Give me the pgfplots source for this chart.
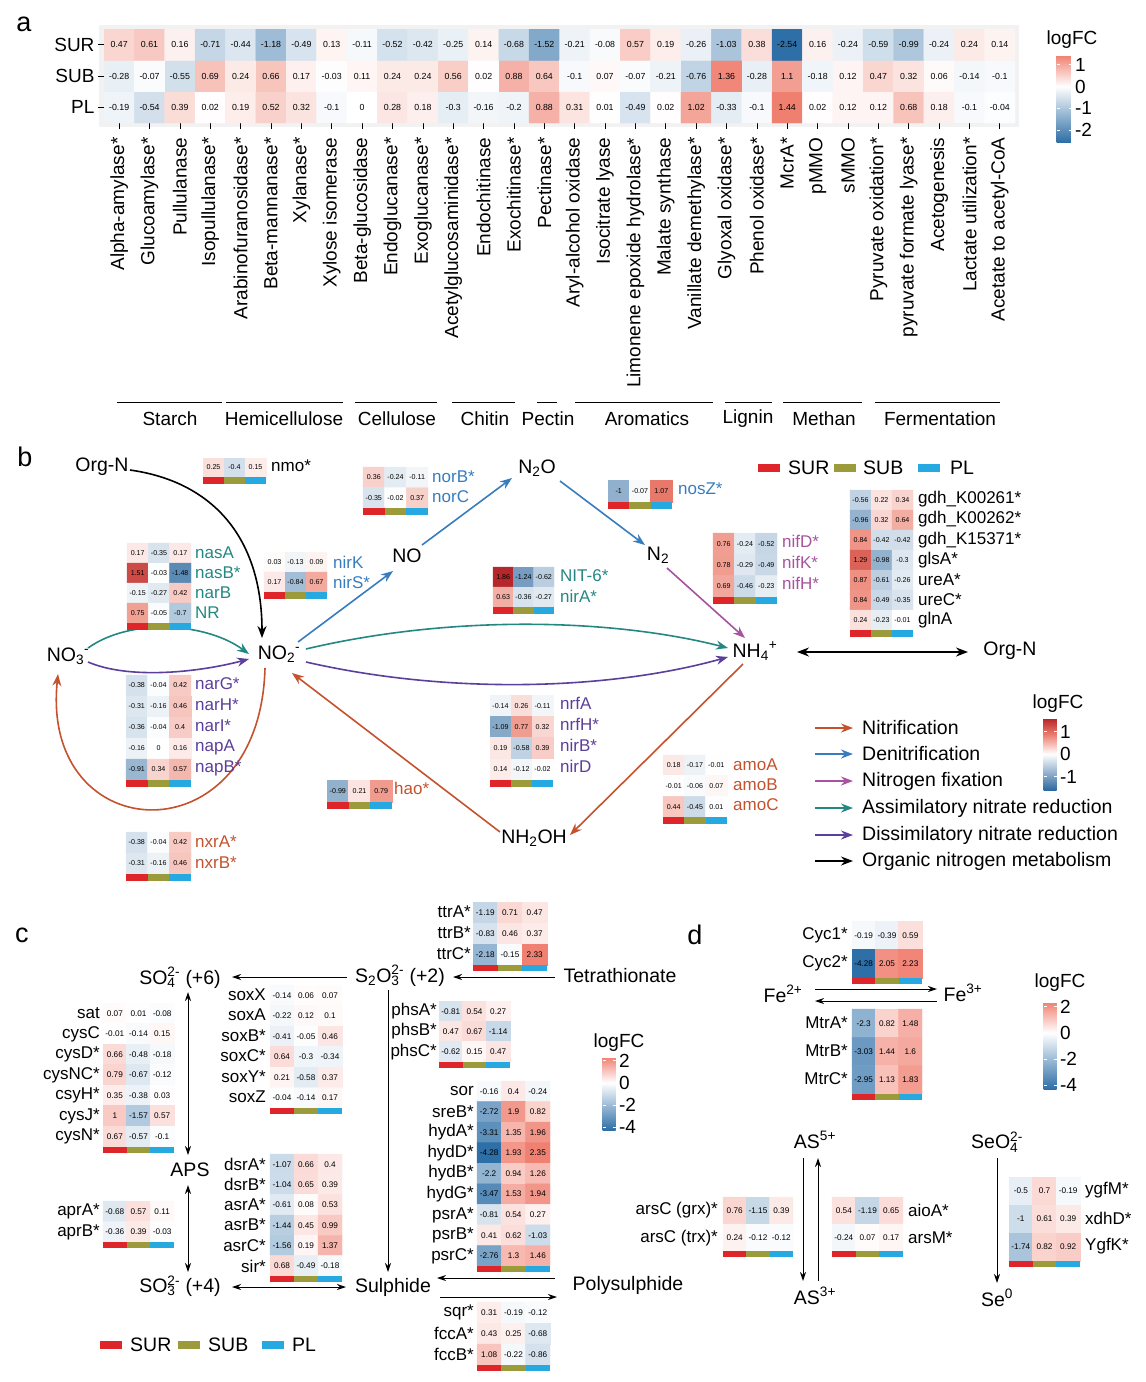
\documentclass[border=0pt]{standalone}
\usepackage{fontspec}
\setmainfont{Liberation Sans}
\usepackage{pgfplots}
\pgfplotsset{compat=1.18}
\usetikzlibrary{arrows.meta}

\definecolor{sred}{RGB}{222,38,42}
\definecolor{solive}{RGB}{155,155,60}
\definecolor{sblue}{RGB}{38,168,224}
\definecolor{cnit}{RGB}{195,82,45}
\definecolor{cden}{RGB}{55,125,190}
\definecolor{cfix}{RGB}{168,82,160}
\definecolor{cass}{RGB}{35,135,130}
\definecolor{cdis}{RGB}{92,62,155}

\newcommand{\fa}{\fontsize{8.8}{9}\selectfont}
\newcommand{\fb}{\fontsize{7.1}{7.5}\selectfont}
\newcommand{\fc}{\fontsize{8.2}{8.5}\selectfont}
\newcommand{\flab}{\fontsize{19}{21}\selectfont}
\newcommand{\fbig}{\fontsize{19.5}{21}\selectfont}
\newcommand{\fgene}{\fontsize{17}{19}\selectfont}
\newcommand{\fpanel}{\fontsize{27}{30}\selectfont}

\pgfplotsset{
  colormap={amap}{rgb255(0cm)=(46,111,167); rgb255(2.54cm)=(255,255,255); rgb255(3.98cm)=(239,128,112)},
  colormap={bmap}{rgb255(0cm)=(45,105,160); rgb255(1.9cm)=(255,255,255); rgb255(2.9cm)=(236,128,112); rgb255(3.8cm)=(180,35,40)},
  colormap={cmap}{rgb255(0cm)=(46,111,167); rgb255(4.28cm)=(255,255,255); rgb255(6.63cm)=(240,128,113)},
  hm/.style={scale only axis, hide axis, anchor=north west, enlargelimits=false,
    xmin=-0.5, xmax=2.5, ymin=-0.5, y dir=reverse, clip=false,
    nodes near coords={\pgfmathprintnumber[fixed,precision=2,assume math mode=true]{\pgfplotspointmeta}},
    nodes near coords align=center,
    every node near coord/.append style={text=black, inner sep=0pt}},
  bhm/.style={hm, colormap name=bmap, point meta min=-1.9, point meta max=1.9,
    width=64pt, every node near coord/.append style={font=\fb}},
  chm/.style={hm, colormap name=cmap, point meta min=-4.28, point meta max=2.35,
    every node near coord/.append style={font=\fc}},
  % a heatmap with a single row: square marks in the mapped colour (values set by a second plot)
  onerow/.style={scatter, only marks, mark=square*, mark size=#1, nodes near coords={},
    scatter/use mapped color={draw=mapped color, fill=mapped color}},
  cbar/.style n args={4}{at={(#1pt,-#2pt)}, anchor=north west, scale only axis, width=1pt, height=1pt,
    hide axis, xmin=0, xmax=1, ymin=0, ymax=1, point meta min=#3, point meta max=#4, colorbar,
    colorbar style={at={(parent axis.north west)}, anchor=north west, xshift=0pt,
      tick style={draw=white, line width=0.8pt}, major tick length=3pt,
      axis line style={draw=none}, yticklabel style={font=\flab},
      /pgf/number format/assume math mode=true}},
}

\tikzset{
  arr/.style={-{Stealth[length=12pt,width=9pt]}, line width=1.6pt},
  tarr/.style={-{Stealth[length=9pt,width=6pt]}, line width=1pt, black},
  dbl/.style={{Stealth[length=9pt,width=6pt]}-{Stealth[length=9pt,width=6pt]}, line width=1pt, black},
  gl/.style={font=\fgene, inner sep=0pt, anchor=west},
  gr/.style={font=\fgene, inner sep=0pt, anchor=east},
}

% colour strip (SUR, SUB, PL) under a heatmap
\newcommand{\cb}[3][7]{%
  \fill[sred] (#2.south west) rectangle ++(#3,#1);
  \fill[solive] ([xshift=#3pt]#2.south west) rectangle ++(#3,#1);
  \fill[sblue] ([xshift=2*#3pt]#2.south west) rectangle ++(#3,#1);}

\begin{document}
\begin{tikzpicture}[x=1pt,y=-1pt]
\path (0,0) rectangle (1146,1382);

%%%%%%%%%%%%%%%%%%%%%%%%%%%%%%%%%%%%%%%%%%%%%% panel a
\node[font=\fpanel] at (24,24) {a};
\fill[gray!10] (99,25) rectangle (1019,127);
\begin{axis}[name=A, at={(104pt,-29pt)}, anchor=north west, scale only axis,
  width=911pt, height=94pt, xmin=-0.5, xmax=29.5, ymin=-0.5, ymax=2.5,
  enlargelimits=false, axis line style={draw=none}, tick align=outside,
  major tick length=6pt, tick style={black, line width=0.7pt},
  xtick pos=left, ytick pos=left, xtick={0,...,29}, ytick={0,1,2},
  yticklabels={PL,SUB,SUR}, xticklabel shift=5pt,
  xticklabels={Alpha-amylase*,Glucoamylase*,Pullulanase,Isopullulanase*,Arabinofuranosidase*,Beta-mannanase*,Xylanase*,Xylose isomerase,Beta-glucosidase,Endoglucanase*,Exoglucanase*,Acetylglucosaminidase*,Endochitinase,Exochitinase*,Pectinase*,Aryl-alcohol oxidase,Isocitrate lyase,Limonene epoxide hydrolase*,Malate synthase,Vanillate demethylase*,Glyoxal oxidase*,Phenol oxidase*,McrA*,pMMO,sMMO,Pyruvate oxidation*,pyruvate formate lyase*,Acetogenesis,Lactate utilization*,Acetate to acetyl-CoA},
  xticklabel style={rotate=90, anchor=east, font=\flab},
  yticklabel style={font=\flab},
  colormap name=amap, point meta min=-2.54, point meta max=1.44,
  nodes near coords={\pgfmathprintnumber[fixed,precision=2,assume math mode=true]{\pgfplotspointmeta}},
  nodes near coords align=center,
  every node near coord/.append style={font=\fa, text=black, inner sep=0pt}]
\addplot[matrix plot*, mesh/cols=30, point meta=explicit] coordinates {
(0,0)[-0.19] (1,0)[-0.54] (2,0)[0.39] (3,0)[0.02] (4,0)[0.19] (5,0)[0.52] (6,0)[0.32] (7,0)[-0.1] (8,0)[0] (9,0)[0.28] (10,0)[0.18] (11,0)[-0.3] (12,0)[-0.16] (13,0)[-0.2] (14,0)[0.88] (15,0)[0.31] (16,0)[0.01] (17,0)[-0.49] (18,0)[0.02] (19,0)[1.02] (20,0)[-0.33] (21,0)[-0.1] (22,0)[1.44] (23,0)[0.02] (24,0)[0.12] (25,0)[0.12] (26,0)[0.68] (27,0)[0.18] (28,0)[-0.1] (29,0)[-0.04]
(0,1)[-0.28] (1,1)[-0.07] (2,1)[-0.55] (3,1)[0.69] (4,1)[0.24] (5,1)[0.66] (6,1)[0.17] (7,1)[-0.03] (8,1)[0.11] (9,1)[0.24] (10,1)[0.24] (11,1)[0.56] (12,1)[0.02] (13,1)[0.88] (14,1)[0.64] (15,1)[-0.1] (16,1)[0.07] (17,1)[-0.07] (18,1)[-0.21] (19,1)[-0.76] (20,1)[1.36] (21,1)[-0.28] (22,1)[1.1] (23,1)[-0.18] (24,1)[0.12] (25,1)[0.47] (26,1)[0.32] (27,1)[0.06] (28,1)[-0.14] (29,1)[-0.1]
(0,2)[0.47] (1,2)[0.61] (2,2)[0.16] (3,2)[-0.71] (4,2)[-0.44] (5,2)[-1.18] (6,2)[-0.49] (7,2)[0.13] (8,2)[-0.11] (9,2)[-0.52] (10,2)[-0.42] (11,2)[-0.25] (12,2)[0.14] (13,2)[-0.68] (14,2)[-1.52] (15,2)[-0.21] (16,2)[-0.08] (17,2)[0.57] (18,2)[0.19] (19,2)[-0.26] (20,2)[-1.03] (21,2)[0.38] (22,2)[-2.54] (23,2)[0.16] (24,2)[-0.24] (25,2)[-0.59] (26,2)[-0.99] (27,2)[-0.24] (28,2)[0.24] (29,2)[0.14]
};
\end{axis}
\node[font=\flab] at (1072,40) {logFC};
\begin{axis}[cbar={1048}{55}{-2.54}{1.44}, colormap name=amap,
  colorbar style={width=15pt, height=87pt, ytick={-2,-1,0,1}}]
\addplot[draw=none] coordinates {(0,0)};
\end{axis}
% substrate groups
\foreach \a/\b/\c/\t in {117/222/170/Starch, 226/343/284/Hemicellulose, 355/437/397/Cellulose,
  452/515/485/Chitin, 537/557/548/Pectin, 575/713/647/Aromatics, 725/772/748/Lignin,
  783/862/824/Methan, 875/1000/940/Fermentation}{
  \draw[line width=1pt] (\a,402) -- (\b,402);
  \node[font=\flab] at (\c,419) {\t};
}

%%%%%%%%%%%%%%%%%%%%%%%%%%%%%%%%%%%%%%%%%%%%%% panel b
\node[font=\fpanel] at (25,457) {b};
% compounds
\node[font=\fbig] at (102,467) {Org-N};
\node[font=\fbig] at (68,656) {NO\textsubscript{3}\textsuperscript{-}};
\node[font=\fbig] at (279,654) {NO\textsubscript{2}\textsuperscript{-}};
\node[font=\fbig] at (407,556) {NO};
\node[font=\fbig] at (537,468) {N\textsubscript{2}O};
\node[font=\fbig] at (658,555) {N\textsubscript{2}};
\node[font=\fbig] at (755,651) {NH\textsubscript{4}\textsuperscript{+}};
\node[font=\fbig] at (1010,651) {Org-N};
\node[font=\fbig] at (534,838) {NH\textsubscript{2}OH};
% pathways
\draw[arr] (130,470) .. controls (215,482) and (262,540) .. (262,638);
\draw[arr, cass] (88,648) .. controls (130,618) and (205,622) .. (249,654);
\draw[arr, cdis] (88,662) .. controls (130,680) and (200,672) .. (249,659);
\draw[arr, cass] (306,649) .. controls (450,615) and (610,618) .. (728,648);
\draw[arr, cdis] (306,662) .. controls (450,695) and (610,690) .. (728,657);
\draw[arr, cden] (298,642) -- (393,571);
\draw[arr, cden] (422,545) -- (512,478);
\draw[arr, cden] (560,481) -- (645,545);
\draw[arr, cfix] (667,568) -- (745,638);
\draw[arr, cnit] (743,664) -- (570,835);
\draw[arr, cnit] (500,832) -- (292,673);
\draw[arr, cnit] (265,668) .. controls (260,860) and (40,850) .. (58,674);
\draw[{Stealth[length=12pt,width=9pt]}-{Stealth[length=12pt,width=9pt]}, line width=1.6pt] (797,652) -- (968,652);

% nmo
\begin{axis}[bhm, name=nmo, at={(203pt,-458pt)}, width=63pt, height=19pt, ymax=0.5]
\addplot[onerow=10.5pt, mark options={yscale=0.905}, point meta=explicit] coordinates {
(0,0)[0.25] (1,0)[-0.4] (2,0)[0.15]};
\addplot[draw=none, point meta=explicit] coordinates {
(0,0)[0.25] (1,0)[-0.4] (2,0)[0.15]};
\end{axis}
\cb{nmo}{21}
\node[gl] at (271,466) {nmo*};

% nas
\begin{axis}[bhm, name=nas, at={(127pt,-543pt)}, width=64pt, height=80pt, ymax=3.5]
\addplot[matrix plot*, mesh/cols=3, point meta=explicit] coordinates {
(0,0)[0.17] (1,0)[-0.35] (2,0)[0.17]
(0,1)[1.51] (1,1)[-0.03] (2,1)[-1.48]
(0,2)[-0.15] (1,2)[-0.27] (2,2)[0.42]
(0,3)[0.75] (1,3)[-0.05] (2,3)[-0.7]};
\end{axis}
\cb{nas}{21.33}
\foreach \t/\y in {nasA/553, nasB*/573, narB/593, NR/613}{\node[gl, cass] at (195,\y) {\t};}

% nirK
\begin{axis}[bhm, name=nirK, at={(264pt,-552pt)}, width=63pt, height=40pt, ymax=1.5]
\addplot[matrix plot*, mesh/cols=3, point meta=explicit] coordinates {
(0,0)[0.03] (1,0)[-0.13] (2,0)[0.09]
(0,1)[0.17] (1,1)[-0.84] (2,1)[0.67]};
\end{axis}
\cb{nirK}{21}
\node[gl, cden] at (333,562) {nirK};
\node[gl, cden] at (333,582) {nirS*};

% nor
\begin{axis}[bhm, name=nor, at={(363pt,-467pt)}, width=65pt, height=41pt, ymax=1.5]
\addplot[matrix plot*, mesh/cols=3, point meta=explicit] coordinates {
(0,0)[0.36] (1,0)[-0.24] (2,0)[-0.11]
(0,1)[-0.35] (1,1)[-0.02] (2,1)[0.37]};
\end{axis}
\cb{nor}{21.67}
\node[gl, cden] at (432,477) {norB*};
\node[gl, cden] at (432,497) {norC};

% nosZ
\begin{axis}[bhm, name=nos, at={(608pt,-480pt)}, width=64pt, height=22pt, ymax=0.5]
\addplot[onerow=10.67pt, mark options={yscale=1.03}, point meta=explicit] coordinates {
(0,0)[-1] (1,0)[-0.07] (2,0)[1.07]};
\addplot[draw=none, point meta=explicit] coordinates {
(0,0)[-1] (1,0)[-0.07] (2,0)[1.07]};
\end{axis}
\cb{nos}{21.33}
\node[gl, cden] at (678,489) {nosZ*};

% NIT-6
\begin{axis}[bhm, name=nit, at={(493pt,-567pt)}, width=61pt, height=40pt, ymax=1.5]
\addplot[matrix plot*, mesh/cols=3, point meta=explicit] coordinates {
(0,0)[1.86] (1,0)[-1.24] (2,0)[-0.62]
(0,1)[0.63] (1,1)[-0.36] (2,1)[-0.27]};
\end{axis}
\cb{nit}{20.33}
\node[gl, cass] at (560,576) {NIT-6*};
\node[gl, cass] at (560,596) {nirA*};

% nif
\begin{axis}[bhm, name=nif, at={(713pt,-533pt)}, width=64pt, height=64pt, ymax=2.5]
\addplot[matrix plot*, mesh/cols=3, point meta=explicit] coordinates {
(0,0)[0.76] (1,0)[-0.24] (2,0)[-0.52]
(0,1)[0.78] (1,1)[-0.29] (2,1)[-0.49]
(0,2)[0.69] (1,2)[-0.46] (2,2)[-0.23]};
\end{axis}
\cb{nif}{21.33}
\foreach \t/\y in {nifD*/541, nifK*/562, nifH*/583}{\node[gl, cfix] at (782,\y) {\t};}

% sample legend
\fill[sred] (758,464) rectangle (780,472); \node[gl, font=\fbig] at (788,468) {SUR};
\fill[solive] (834,464) rectangle (856,472); \node[gl, font=\fbig] at (863,468) {SUB};
\fill[sblue] (918,464) rectangle (940,472); \node[gl, font=\fbig] at (950,468) {PL};

% gdh
\begin{axis}[bhm, name=gdh, at={(850pt,-490pt)}, width=63pt, height=140pt, ymax=6.5]
\addplot[matrix plot*, mesh/cols=3, point meta=explicit] coordinates {
(0,0)[-0.56] (1,0)[0.22] (2,0)[0.34]
(0,1)[-0.96] (1,1)[0.32] (2,1)[0.64]
(0,2)[0.84] (1,2)[-0.42] (2,2)[-0.42]
(0,3)[1.29] (1,3)[-0.98] (2,3)[-0.3]
(0,4)[0.87] (1,4)[-0.61] (2,4)[-0.26]
(0,5)[0.84] (1,5)[-0.49] (2,5)[-0.35]
(0,6)[0.24] (1,6)[-0.23] (2,6)[-0.01]};
\end{axis}
\cb{gdh}{21}
\foreach \t/\y in {gdh\_K00261*/499, gdh\_K00262*/519, gdh\_K15371*/540, glsA*/560, ureA*/580, ureC*/600, glnA/620}{\node[gl] at (918,\y) {\t};}

% nar / nap
\begin{axis}[bhm, name=nar, at={(126pt,-675pt)}, width=65pt, height=105pt, ymax=4.5]
\addplot[matrix plot*, mesh/cols=3, point meta=explicit] coordinates {
(0,0)[-0.38] (1,0)[-0.04] (2,0)[0.42]
(0,1)[-0.31] (1,1)[-0.16] (2,1)[0.46]
(0,2)[-0.36] (1,2)[-0.04] (2,2)[0.4]
(0,3)[-0.16] (1,3)[0] (2,3)[0.16]
(0,4)[-0.91] (1,4)[0.34] (2,4)[0.57]};
\end{axis}
\cb{nar}{21.67}
\foreach \t/\y in {narG*/684, narH*/705, narI*/726, napA/747, napB*/768}{\node[gl, cdis] at (195,\y) {\t};}

% nxr
\begin{axis}[bhm, name=nxr, at={(126pt,-832pt)}, width=65pt, height=42pt, ymax=1.5]
\addplot[matrix plot*, mesh/cols=3, point meta=explicit] coordinates {
(0,0)[-0.38] (1,0)[-0.04] (2,0)[0.42]
(0,1)[-0.31] (1,1)[-0.16] (2,1)[0.46]};
\end{axis}
\cb{nxr}{21.67}
\node[gl, cnit] at (195,842) {nxrA*};
\node[gl, cnit] at (195,863) {nxrB*};

% hao
\begin{axis}[bhm, name=hao, at={(327pt,-780pt)}, width=65pt, height=22pt, ymax=0.5]
\addplot[onerow=10.83pt, mark options={yscale=1.015}, point meta=explicit] coordinates {
(0,0)[-0.99] (1,0)[0.21] (2,0)[0.79]};
\addplot[draw=none, point meta=explicit] coordinates {
(0,0)[-0.99] (1,0)[0.21] (2,0)[0.79]};
\end{axis}
\cb{hao}{21.67}
\node[gl, cnit] at (394,788) {hao*};

% nrf / nir
\begin{axis}[bhm, name=nrf, at={(490pt,-695pt)}, width=63pt, height=85pt, ymax=3.5]
\addplot[matrix plot*, mesh/cols=3, point meta=explicit] coordinates {
(0,0)[-0.14] (1,0)[0.26] (2,0)[-0.11]
(0,1)[-1.09] (1,1)[0.77] (2,1)[0.32]
(0,2)[0.19] (1,2)[-0.58] (2,2)[0.39]
(0,3)[0.14] (1,3)[-0.12] (2,3)[-0.02]};
\end{axis}
\cb{nrf}{21}
\foreach \t/\y in {nrfA/703, nrfH*/724, nirB*/745, nirD/766}{\node[gl, cdis] at (560,\y) {\t};}

% amo
\begin{axis}[bhm, name=amo, at={(663pt,-755pt)}, width=64pt, height=62pt, ymax=2.5]
\addplot[matrix plot*, mesh/cols=3, point meta=explicit] coordinates {
(0,0)[0.18] (1,0)[-0.17] (2,0)[-0.01]
(0,1)[-0.01] (1,1)[-0.06] (2,1)[0.07]
(0,2)[0.44] (1,2)[-0.45] (2,2)[0.01]};
\end{axis}
\cb{amo}{21.33}
\foreach \t/\y in {amoA/765, amoB/785, amoC/805}{\node[gl, cnit] at (733,\y) {\t};}

% pathway legend
\foreach \c/\t/\y in {cnit/Nitrification/728, cden/Denitrification/754, cfix/Nitrogen fixation/781,
  cass/Assimilatory nitrate reduction/808, cdis/Dissimilatory nitrate reduction/835, black/Organic nitrogen metabolism/861}{
  \draw[arr, \c] (815,\y) -- (853,\y);
  \node[gl, font=\fbig] at (862,\y) {\t};
}
\node[font=\flab] at (1058,704) {logFC};
\begin{axis}[cbar={1035}{718}{-1.6}{1.6}, colormap name=bmap,
  colorbar style={width=13pt, height=72pt, ytick={-1,0,1}}]
\addplot[draw=none] coordinates {(0,0)};
\end{axis}

%%%%%%%%%%%%%%%%%%%%%%%%%%%%%%%%%%%%%%%%%%%%%% panel c
\node[font=\fpanel] at (22,935) {c};
\node[font=\fbig] at (180,978) {SO\rlap{\textsubscript{4}}\textsuperscript{2-} (+6)};
\node[font=\fbig] at (400,976) {S\textsubscript{2}O\rlap{\textsubscript{3}}\textsuperscript{2-} (+2)};
\node[font=\fbig] at (620,976) {Tetrathionate};
\node[font=\fbig] at (190,1170) {APS};
\node[font=\fbig] at (180,1286) {SO\rlap{\textsubscript{3}}\textsuperscript{2-} (+4)};
\node[font=\fbig] at (393,1287) {Sulphide};
\node[font=\fbig] at (628,1285) {Polysulphide};
\draw[tarr] (347,977) -- (232,977);
\draw[tarr] (555,977) -- (453,977);
\draw[dbl] (188,992) -- (188,1155);
\draw[dbl] (188,1185) -- (188,1272);
\draw[dbl] (232,1287) -- (346,1287);
\draw[tarr] (388,990) -- (388,1272);
\draw[tarr] (555,1278) -- (437,1278);
\draw[tarr] (440,1297) -- (557,1297);

% ttr
\begin{axis}[chm, name=ttr, at={(473pt,-902pt)}, width=74pt, height=63pt, ymax=2.5]
\addplot[matrix plot*, mesh/cols=3, point meta=explicit] coordinates {
(0,0)[-1.19] (1,0)[0.71] (2,0)[0.47]
(0,1)[-0.83] (1,1)[0.46] (2,1)[0.37]
(0,2)[-2.18] (1,2)[-0.15] (2,2)[2.33]};
\end{axis}
\cb[6]{ttr}{24.67}
\foreach \t/\y in {ttrA*/912, ttrB*/933, ttrC*/954}{\node[gr] at (471,\y) {\t};}

% sox
\begin{axis}[chm, name=sox, at={(270pt,-985pt)}, width=72pt, height=123pt, ymax=5.5]
\addplot[matrix plot*, mesh/cols=3, point meta=explicit] coordinates {
(0,0)[-0.14] (1,0)[0.06] (2,0)[0.07]
(0,1)[-0.22] (1,1)[0.12] (2,1)[0.1]
(0,2)[-0.41] (1,2)[-0.05] (2,2)[0.46]
(0,3)[0.64] (1,3)[-0.3] (2,3)[-0.34]
(0,4)[0.21] (1,4)[-0.58] (2,4)[0.37]
(0,5)[-0.04] (1,5)[-0.14] (2,5)[0.17]};
\end{axis}
\cb[6]{sox}{24}
\foreach \t/\y in {soxX/995, soxA/1015, soxB*/1036, soxC*/1056, soxY*/1077, soxZ/1097}{\node[gr] at (266,\y) {\t};}

% sat / cys
\begin{axis}[chm, name=sat, at={(103pt,-1003pt)}, width=71pt, height=143.5pt, ymax=6.5]
\addplot[matrix plot*, mesh/cols=3, point meta=explicit] coordinates {
(0,0)[0.07] (1,0)[0.01] (2,0)[-0.08]
(0,1)[-0.01] (1,1)[-0.14] (2,1)[0.15]
(0,2)[0.66] (1,2)[-0.48] (2,2)[-0.18]
(0,3)[0.79] (1,3)[-0.67] (2,3)[-0.12]
(0,4)[0.35] (1,4)[-0.38] (2,4)[0.03]
(0,5)[1] (1,5)[-1.57] (2,5)[0.57]
(0,6)[0.67] (1,6)[-0.57] (2,6)[-0.1]};
\end{axis}
\cb[6]{sat}{23.67}
\foreach \t/\y in {sat/1013, cysC/1034, cysD*/1054, cysNC*/1075, csyH*/1095, cysJ*/1116, cysN*/1136}{\node[gr] at (100,\y) {\t};}

% apr
\begin{axis}[chm, name=apr, at={(103pt,-1201pt)}, width=71pt, height=41pt, ymax=1.5]
\addplot[matrix plot*, mesh/cols=3, point meta=explicit] coordinates {
(0,0)[-0.68] (1,0)[0.57] (2,0)[0.11]
(0,1)[-0.36] (1,1)[0.39] (2,1)[-0.03]};
\end{axis}
\cb[6]{apr}{23.67}
\node[gr] at (100,1211) {aprA*};
\node[gr] at (100,1232) {aprB*};

% dsr / asr / sir
\begin{axis}[chm, name=dsr, at={(270pt,-1154pt)}, width=72pt, height=122pt, ymax=5.5]
\addplot[matrix plot*, mesh/cols=3, point meta=explicit] coordinates {
(0,0)[-1.07] (1,0)[0.66] (2,0)[0.4]
(0,1)[-1.04] (1,1)[0.65] (2,1)[0.39]
(0,2)[-0.61] (1,2)[0.08] (2,2)[0.53]
(0,3)[-1.44] (1,3)[0.45] (2,3)[0.99]
(0,4)[-1.56] (1,4)[0.19] (2,4)[1.37]
(0,5)[0.68] (1,5)[-0.49] (2,5)[-0.18]};
\end{axis}
\cb[6]{dsr}{24}
\foreach \t/\y in {dsrA*/1164, dsrB*/1184, asrA*/1205, asrB*/1225, asrC*/1246, sir*/1266}{\node[gr] at (266,\y) {\t};}

% phs
\begin{axis}[chm, name=phs, at={(439pt,-1001pt)}, width=71pt, height=61pt, ymax=2.5]
\addplot[matrix plot*, mesh/cols=3, point meta=explicit] coordinates {
(0,0)[-0.81] (1,0)[0.54] (2,0)[0.27]
(0,1)[0.47] (1,1)[0.67] (2,1)[-1.14]
(0,2)[-0.62] (1,2)[0.15] (2,2)[0.47]};
\end{axis}
\cb[6]{phs}{23.67}
\foreach \t/\y in {phsA*/1011, phsB*/1031, phsC*/1052}{\node[gr] at (437,\y) {\t};}

% sor / sre / hyd / psr
\begin{axis}[chm, name=sor, at={(477pt,-1081pt)}, width=73pt, height=185pt, ymax=8.5]
\addplot[matrix plot*, mesh/cols=3, point meta=explicit] coordinates {
(0,0)[-0.16] (1,0)[0.4] (2,0)[-0.24]
(0,1)[-2.72] (1,1)[1.9] (2,1)[0.82]
(0,2)[-3.31] (1,2)[1.35] (2,2)[1.96]
(0,3)[-4.28] (1,3)[1.93] (2,3)[2.35]
(0,4)[-2.2] (1,4)[0.94] (2,4)[1.26]
(0,5)[-3.47] (1,5)[1.53] (2,5)[1.94]
(0,6)[-0.81] (1,6)[0.54] (2,6)[0.27]
(0,7)[0.41] (1,7)[0.62] (2,7)[-1.03]
(0,8)[-2.76] (1,8)[1.3] (2,8)[1.46]};
\end{axis}
\cb[6]{sor}{24.33}
\foreach \t/\y in {sor/1091, sreB*/1112, hydA*/1132, hydD*/1153, hydB*/1173, hydG*/1194, psrA*/1215, psrB*/1235, psrC*/1256}{\node[gr] at (474,\y) {\t};}

% sqr / fcc
\begin{axis}[chm, name=sqr, at={(477pt,-1302pt)}, width=73pt, height=63pt, ymax=2.5]
\addplot[matrix plot*, mesh/cols=3, point meta=explicit] coordinates {
(0,0)[0.31] (1,0)[-0.19] (2,0)[-0.12]
(0,1)[0.43] (1,1)[0.25] (2,1)[-0.68]
(0,2)[1.08] (1,2)[-0.22] (2,2)[-0.86]};
\end{axis}
\cb[6]{sqr}{24.33}
\foreach \t/\y in {sqr*/1312, fccA*/1333, fccB*/1354}{\node[gr] at (474,\y) {\t};}

% sample legend
\fill[sred] (100,1341) rectangle (122,1349); \node[gl, font=\fbig] at (130,1345) {SUR};
\fill[solive] (178,1341) rectangle (200,1349); \node[gl, font=\fbig] at (208,1345) {SUB};
\fill[sblue] (262,1341) rectangle (284,1349); \node[gl, font=\fbig] at (292,1345) {PL};

\node[font=\flab] at (619,1043) {logFC};
\begin{axis}[cbar={594}{1057}{-4.28}{2.35}, colormap name=cmap,
  colorbar style={width=13pt, height=73pt, ytick={-4,-2,0,2}}]
\addplot[draw=none] coordinates {(0,0)};
\end{axis}

%%%%%%%%%%%%%%%%%%%%%%%%%%%%%%%%%%%%%%%%%%%%%% panel d
\node[font=\fpanel] at (695,935) {d};
\node[font=\fbig] at (783,994) {Fe\textsuperscript{2+}};
\node[font=\fbig] at (963,993) {Fe\textsuperscript{3+}};
\node[font=\fbig] at (815,1140) {AS\textsuperscript{5+}};
\node[font=\fbig] at (815,1296) {AS\textsuperscript{3+}};
\node[font=\fbig] at (997,1142) {SeO\rlap{\textsubscript{4}}\textsuperscript{2-}};
\node[font=\fbig] at (997,1298) {Se\textsuperscript{0}};
\draw[tarr] (815,989) -- (937,989);
\draw[tarr] (937,1001) -- (815,1001);
\draw[tarr] (803,1158) -- (803,1281);
\draw[tarr] (818,1281) -- (818,1158);
\draw[tarr] (997,1158) -- (997,1283);

% Cyc
\begin{axis}[chm, name=cyc, at={(852pt,-921pt)}, width=70pt, height=57pt, ymax=1.5]
\addplot[matrix plot*, mesh/cols=3, point meta=explicit] coordinates {
(0,0)[-0.19] (1,0)[-0.39] (2,0)[0.59]
(0,1)[-4.28] (1,1)[2.05] (2,1)[2.23]};
\end{axis}
\cb[6]{cyc}{23.33}
\node[gr] at (848,935) {Cyc1*};
\node[gr] at (848,963) {Cyc2*};

% Mtr
\begin{axis}[chm, name=mtr, at={(852pt,-1009pt)}, width=70pt, height=85pt, ymax=2.5]
\addplot[matrix plot*, mesh/cols=3, point meta=explicit] coordinates {
(0,0)[-2.3] (1,0)[0.82] (2,0)[1.48]
(0,1)[-3.03] (1,1)[1.44] (2,1)[1.6]
(0,2)[-2.95] (1,2)[1.13] (2,2)[1.83]};
\end{axis}
\cb[6]{mtr}{23.33}
\foreach \t/\y in {MtrA*/1023, MtrB*/1051, MtrC*/1079}{\node[gr] at (848,\y) {\t};}

\node[font=\flab] at (1060,983) {logFC};
\begin{axis}[cbar={1035}{1002}{-4.28}{2.35}, colormap name=cmap,
  colorbar style={width=13pt, height=87pt, ytick={-4,-2,0,2}}]
\addplot[draw=none] coordinates {(0,0)};
\end{axis}

% arsC
\begin{axis}[chm, name=arsc, at={(723pt,-1197pt)}, width=70pt, height=54pt, ymax=1.5]
\addplot[matrix plot*, mesh/cols=3, point meta=explicit] coordinates {
(0,0)[0.76] (1,0)[-1.15] (2,0)[0.39]
(0,1)[0.24] (1,1)[-0.12] (2,1)[-0.12]};
\end{axis}
\cb[6]{arsc}{23.33}
\node[gr] at (718,1210) {arsC (grx)*};
\node[gr] at (718,1238) {arsC (trx)*};

% aio / arsM
\begin{axis}[chm, name=aio, at={(832pt,-1197pt)}, width=71pt, height=54pt, ymax=1.5]
\addplot[matrix plot*, mesh/cols=3, point meta=explicit] coordinates {
(0,0)[0.54] (1,0)[-1.19] (2,0)[0.65]
(0,1)[-0.24] (1,1)[0.07] (2,1)[0.17]};
\end{axis}
\cb[6]{aio}{23.67}
\node[gl] at (908,1210) {aioA*};
\node[gl] at (908,1238) {arsM*};

% ygf / xdh
\begin{axis}[chm, name=ygf, at={(1009pt,-1177pt)}, width=71pt, height=84pt, ymax=2.5]
\addplot[matrix plot*, mesh/cols=3, point meta=explicit] coordinates {
(0,0)[-0.5] (1,0)[0.7] (2,0)[-0.19]
(0,1)[-1] (1,1)[0.61] (2,1)[0.39]
(0,2)[-1.74] (1,2)[0.82] (2,2)[0.92]};
\end{axis}
\cb[6]{ygf}{23.67}
\foreach \t/\y in {ygfM*/1190, xdhD*/1218, YgfK*/1246}{\node[gl] at (1085,\y) {\t};}

\end{tikzpicture}
\end{document}
